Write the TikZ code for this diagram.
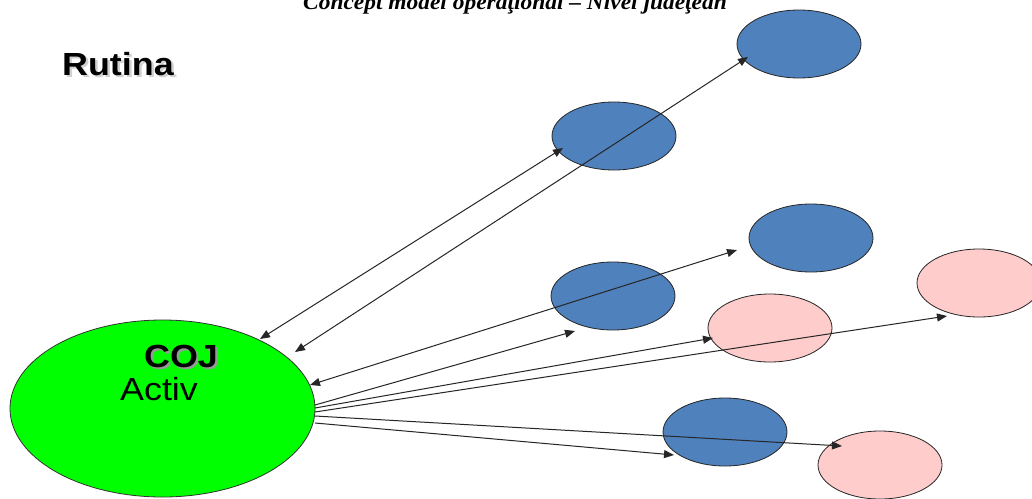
\documentclass[tikz,border=0pt]{standalone}
\usepackage{fontspec}
\setmainfont{Liberation Serif}
\setsansfont{Liberation Sans}
\usetikzlibrary{shapes.geometric,arrows.meta}
\definecolor{cojgreen}{HTML}{00FF00}
\definecolor{nodeblue}{HTML}{4F81BD}
\definecolor{nodepink}{HTML}{FFCCCC}
\begin{document}
\begin{tikzpicture}[x=1pt,y=-1pt,
  blob/.style={ellipse, draw=black!85, line width=0.8pt, inner sep=0pt, minimum width=124pt, minimum height=68pt},
  bluenode/.style={blob, fill=nodeblue},
  pinknode/.style={blob, fill=nodepink},
  tip/.tip={Triangle[length=10pt,width=8pt]},
  link/.style={draw=black!85, line width=1pt, -tip},
  duallink/.style={draw=black!85, line width=1pt, tip-tip},
  lbl/.style={font=\sffamily\fontsize{32}{32}\selectfont, inner sep=0pt}
]
\useasboundingbox (0,0) rectangle (1032,498);
\clip (0,0) rectangle (1032,498);
\fill[white] (0,0) rectangle (1032,498);

% title (cut at top)
\node[anchor=base, inner sep=0pt, font=\bfseries\itshape\fontsize{22}{22}\selectfont] (title) at (515,9.5) {\scalebox{1.065}[1]{Concept model operaţional – Nivel judeţean}};

% Rutina
\node[lbl, anchor=base west, text=black!18] (rutinash) at (64.5,77.5) {\scalebox{1.12}[1]{\bfseries Rutina}};
\node[lbl, anchor=base west] (rutina) at (62,75) {\scalebox{1.12}[1]{\bfseries Rutina}};

% main ellipse
\node[ellipse, draw=black!80, line width=0.8pt, fill=cojgreen, inner sep=0pt, minimum width=305pt, minimum height=177pt] (coj) at (162.5,408.5) {};
\node[lbl, anchor=base, text=black!40] (cojsh) at (183,369) {\scalebox{1.12}[1]{\bfseries COJ}};
\node[lbl, anchor=base] (cojtxt) at (181,367) {\scalebox{1.12}[1]{\bfseries COJ}};
\node[lbl, anchor=base west] (activ) at (120,400) {\scalebox{1.12}[1]{Activ}};

% small ellipses
\node[bluenode] (b1) at (799,44) {};
\node[bluenode] (b2) at (614,136) {};
\node[bluenode] (b3) at (811,238) {};
\node[bluenode] (b4) at (613,296) {};
\node[bluenode] (b5) at (725,432) {};
\node[pinknode] (p1) at (770,328) {};
\node[pinknode] (p2) at (979,283) {};
\node[pinknode] (p3) at (880,465) {};

% connector end points
\coordinate (a1) at (260,339);  \coordinate (a2) at (563,148);
\coordinate (c1) at (295,352);  \coordinate (c2) at (748,57);
\coordinate (d1) at (310,385);  \coordinate (d2) at (737,250);
\coordinate (e1) at (315,405);  \coordinate (e2) at (575,331);
\coordinate (f1) at (315,408);  \coordinate (f2) at (713,338);
\coordinate (g1) at (315,412);  \coordinate (g2) at (947,316);
\coordinate (h1) at (315,416);  \coordinate (h2) at (842,446);
\coordinate (k1) at (315,423);  \coordinate (k2) at (674,455);

% connectors
\draw[duallink] (a1) -- (a2);
\draw[duallink] (c1) -- (c2);
\draw[duallink] (d1) -- (d2);
\draw[link] (e1) -- (e2);
\draw[link] (f1) -- (f2);
\draw[link] (g1) -- (g2);
\draw[link] (h1) -- (h2);
\draw[link] (k1) -- (k2);
\end{tikzpicture}
\end{document}
